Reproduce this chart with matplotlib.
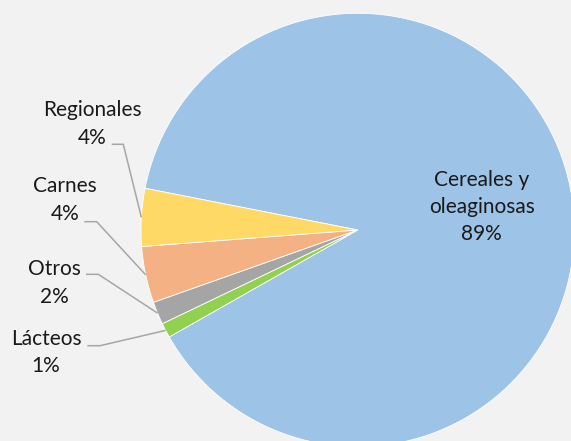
import matplotlib
matplotlib.use("Agg")
import matplotlib.pyplot as plt
import numpy as np

# Data (clockwise order starting at Cereales)
categories = ["Cereales y\noleaginosas", "Lácteos", "Otros", "Carnes", "Regionales"]
values = [88.7, 1.1, 1.7, 4.2, 4.3]
pct_labels = ["89%", "1%", "2%", "4%", "4%"]
colors = ["#9DC3E6", "#92D050", "#A5A5A5", "#F4B183", "#FFD966"]

W, H = 571, 441
fig = plt.figure(figsize=(W / 100, H / 100), dpi=100, facecolor="#F2F2F2")
ax = fig.add_axes([0, 0, 1, 1])
ax.set_facecolor("#F2F2F2")

def py(y):
    return H - y

cx, cy, R = 357.7, py(230), 216.7
wedges, _ = ax.pie(values, colors=colors, startangle=168.9, counterclock=False,
                   center=(cx, cy), radius=R,
                   wedgeprops=dict(edgecolor="white", linewidth=0.6))
ax.set_xlim(0, W)
ax.set_ylim(0, H)
ax.set_aspect("equal")
ax.axis("off")

font = dict(family=["Lato", "DejaVu Sans"], fontsize=15, color="#1a1a1a")

# Inside label for main slice
ax.text(481.7, py(207), f"{categories[0]}\n{pct_labels[0]}", ha="center", va="center",
        linespacing=1.45, **font)

# Outside labels: (text center x, text center y, line start x, elbow x, line y)
label_pos = {
    "Regionales": (92, 124, 111.7, 123.3, 144.3),
    "Carnes": (65, 200, 84.3, 96.7, 221.7),
    "Otros": (54.5, 283, 86, 98.3, 274.3),
    "Lácteos": (46, 352.5, 87.3, 100, 345.7),
}
for i in range(1, len(categories)):
    name = categories[i]
    w = wedges[i]
    mid = np.deg2rad((w.theta1 + w.theta2) / 2)
    ex, ey = cx + R * np.cos(mid), cy + R * np.sin(mid)
    tx, ty, lx0, lx1, ly = label_pos[name]
    ax.text(tx, py(ty), f"{name}\n{pct_labels[i]}", ha="center", va="center",
            linespacing=1.45, **font)
    ax.plot([lx0, lx1, ex], [py(ly), py(ly), ey], color="#A6A6A6", lw=1.1,
            solid_capstyle="butt", zorder=5)

fig.savefig("out.png", dpi=100, facecolor=fig.get_facecolor())
